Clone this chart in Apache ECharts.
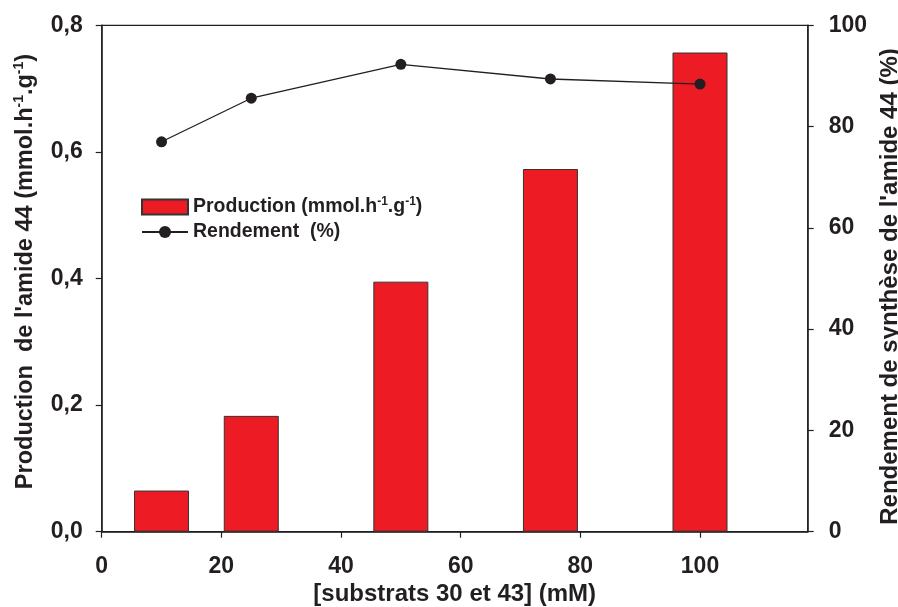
<!DOCTYPE html>
<html>
<head>
<meta charset="utf-8">
<script src="https://cdn.jsdelivr.net/npm/echarts@6/dist/echarts.min.js"></script>
<style>
html,body{margin:0;padding:0;background:#fff;}
#chart{width:898px;height:607px;}
</style>
</head>
<body>
<div id="chart"></div>
<script>
// Data
var concentrations = [10, 25, 50, 75, 100];
var production = [0.065, 0.183, 0.395, 0.573, 0.757];
var rendement = [77.0, 85.6, 92.3, 89.4, 88.4];
var xTicks = [0, 20, 40, 60, 80, 100];
var xName = '[substrats 30 et 43] (mM)';
var yLeftName = "Production  de l'amide 44 (mmol.h-1.g-1)";
var yRightName = "Rendement de synthèse de l'amide 44 (%)";
var seriesNames = ['Production', 'Rendement  (%)'];

var FONT = "'Liberation Sans', Arial, Helvetica, sans-serif";
var INK = '#231f20';

var chart = echarts.init(document.getElementById('chart'), null, {renderer: 'canvas'});

var supRich = {
  n: {fontFamily: FONT, fontWeight: 'bold', fontSize: 23.5, color: INK, lineHeight: 28},
  s: {fontFamily: FONT, fontWeight: 'bold', fontSize: 14, color: INK, lineHeight: 15, verticalAlign: 'top'}
};
var legRich = {
  n: {fontFamily: FONT, fontWeight: 'bold', fontSize: 19.5, color: INK, lineHeight: 22},
  s: {fontFamily: FONT, fontWeight: 'bold', fontSize: 12, color: INK, lineHeight: 12, verticalAlign: 'top'}
};

function supFormat(str) {
  var parts = str.split(/(-1)/);
  return parts.map(function (p) {
    if (p === '-1') return '{s|-1}';
    return p ? '{n|' + p + '}' : '';
  }).join('');
}

var option = {
  backgroundColor: '#fff',
  animation: false,
  textStyle: {fontFamily: FONT},
  grid: {
    left: 101.7, right: 90.3, top: 25.3, bottom: 75.3,
    outerBoundsMode: 'none', containLabel: false,
    show: true, borderColor: INK, borderWidth: 1.2, backgroundColor: 'transparent'
  },
  legend: {
    orient: 'vertical',
    left: 136, top: 191,
    itemWidth: 46, itemHeight: 15, itemGap: 5,
    data: [{name: seriesNames[0], icon: 'rect'}, {name: seriesNames[1]}],
    formatter: function (name) {
      if (name === seriesNames[0]) return supFormat('Production (mmol.h-1.g-1)');
      return '{n|' + name + '}';
    },
    textStyle: {rich: legRich, fontSize: 19.5, fontWeight: 'bold', color: INK}
  },
  xAxis: {
    type: 'value', min: 0, max: 118, interval: 20,
    name: xName, nameLocation: 'middle', nameGap: 47,
    nameTextStyle: {fontFamily: FONT, fontWeight: 'bold', fontSize: 24, color: INK},
    axisLine: {show: true, lineStyle: {color: INK, width: 1.5}},
    axisTick: {show: true, length: 6, lineStyle: {color: INK, width: 1.2}, customValues: xTicks},
    axisLabel: {fontFamily: FONT, fontWeight: 'bold', fontSize: 23, color: INK, margin: 23, customValues: xTicks},
    splitLine: {show: false}
  },
  yAxis: [{
    type: 'value', min: 0, max: 0.8, interval: 0.2, position: 'left',
    name: supFormat(yLeftName), nameLocation: 'middle', nameGap: 62, nameRotate: 90,
    nameTextStyle: {rich: supRich, padding: [0, 0, 0, 14]},
    axisLine: {show: true, lineStyle: {color: INK, width: 1.5}},
    axisTick: {show: true, length: 6, lineStyle: {color: INK, width: 1.2}},
    axisLabel: {fontFamily: FONT, fontWeight: 'bold', fontSize: 23, color: INK, margin: 19,
      formatter: function (v) { return v.toFixed(1).replace('.', ','); }},
    splitLine: {show: false}
  }, {
    type: 'value', min: 0, max: 100, interval: 20, position: 'right',
    name: yRightName, nameLocation: 'middle', nameGap: 68, nameRotate: 90,
    nameTextStyle: {fontFamily: FONT, fontWeight: 'bold', fontSize: 24, color: INK, padding: [0, 16, 0, 0]},
    axisLine: {show: true, lineStyle: {color: INK, width: 1.5}},
    axisTick: {show: true, length: 6, lineStyle: {color: INK, width: 1.2}},
    axisLabel: {fontFamily: FONT, fontWeight: 'bold', fontSize: 23, color: INK, margin: 21},
    splitLine: {show: false}
  }],
  series: [{
    name: seriesNames[0],
    type: 'bar',
    yAxisIndex: 0,
    barWidth: 55,
    data: concentrations.map(function (c, i) { return [c, production[i]]; }),
    itemStyle: {color: '#ed1c24', borderColor: '#333', borderWidth: 1}
  }, {
    name: seriesNames[1],
    type: 'line',
    yAxisIndex: 1,
    symbol: 'circle', symbolSize: 11,
    data: concentrations.map(function (c, i) { return [c, rendement[i]]; }),
    itemStyle: {color: INK},
    lineStyle: {color: INK, width: 1.3}
  }]
};
chart.setOption(option);
</script>
</body>
</html>
